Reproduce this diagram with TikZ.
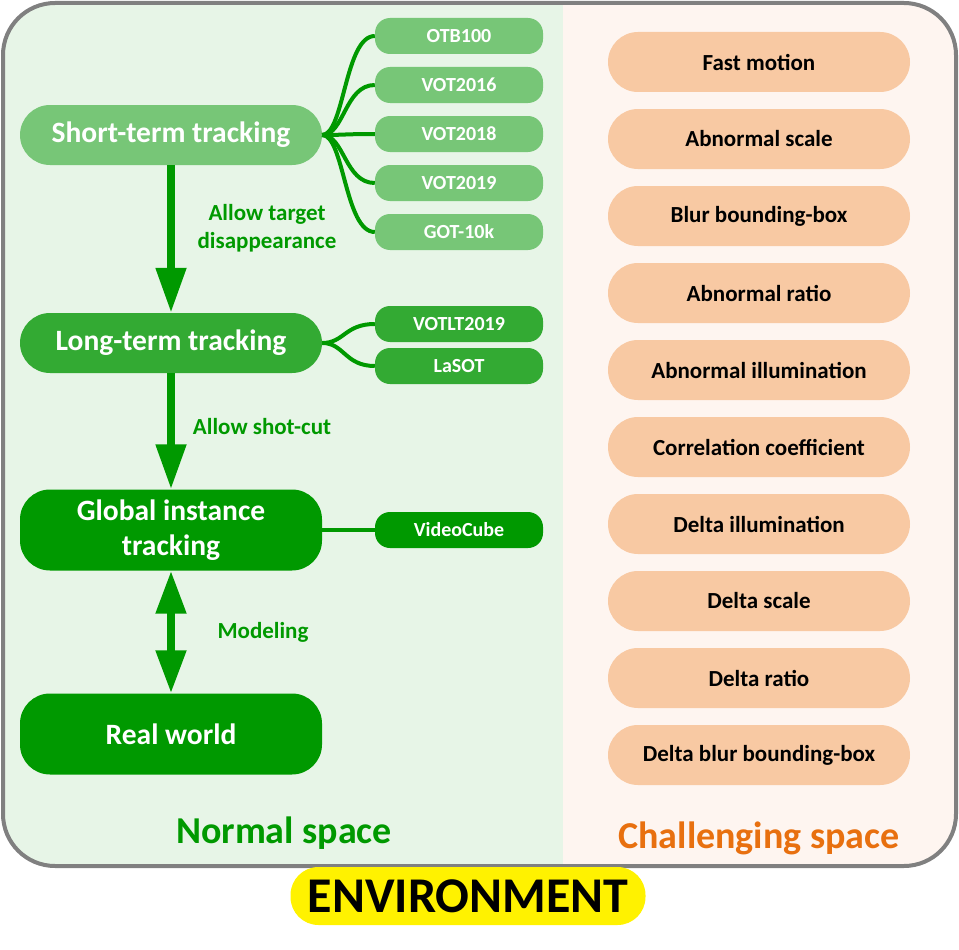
\documentclass[tikz,border=0pt]{standalone}
\usepackage{fontspec}
\setmainfont{Carlito}
\usetikzlibrary{arrows.meta}
\definecolor{gA}{HTML}{77C677}
\definecolor{gB}{HTML}{33AA33}
\definecolor{gC}{HTML}{009900}
\definecolor{bgG}{HTML}{E7F5E7}
\definecolor{bgP}{HTML}{FEF5F0}
\definecolor{peach}{HTML}{F8C9A3}
\definecolor{orng}{HTML}{E8700F}
\definecolor{frame}{HTML}{808080}
\tikzset{
  mainbox/.style={rounded corners=30pt, minimum width=302pt, minimum height=60pt, text=white,
    font=\bfseries\fontsize{29.5}{35}\selectfont, align=center, inner sep=0pt},
  dsbox/.style={rounded corners=15pt, minimum width=168pt, minimum height=36pt, text=white,
    font=\bfseries\fontsize{20}{22}\selectfont, inner sep=0pt},
  chbox/.style={fill=peach, rounded corners=30pt, minimum width=302pt, minimum height=60pt,
    font=\bfseries\fontsize{23}{26}\selectfont, inner sep=0pt},
  conn/.style={draw=gC, line width=4pt},
  bigarrow/.style={draw=gC, fill=gC, line width=8pt, -{Triangle[width=29pt,length=45pt]}},
  dblarrow/.style={draw=gC, fill=gC, line width=8pt, {Triangle[width=29pt,length=43pt]}-{Triangle[width=29pt,length=43pt]}},
  lbl/.style={text=gC, font=\bfseries\fontsize{23}{28}\selectfont, align=center},
}
\begin{document}
\begin{tikzpicture}[x=1pt,y=-1pt]
\useasboundingbox (0,0) rectangle (959,950);
% background
\begin{scope}
  \clip[rounded corners=52pt] (3,3) rectangle (956,866);
  \fill[bgG] (0,0) rectangle (563,870);
  \fill[bgP] (563,0) rectangle (960,870);
\end{scope}
\draw[frame, line width=4pt, rounded corners=52pt] (3,3) rectangle (956,866);

% main nodes
\node[mainbox, fill=gA] (st) at (171,135) {Short-term tracking};
\node[mainbox, fill=gB] (lt) at (171,343) {Long-term tracking};
\node[mainbox, fill=gC, minimum height=81pt] (git) at (171,530) {Global instance\\tracking};
\node[mainbox, fill=gC, minimum height=81pt] (rw) at (171,734) {Real world};

% datasets
\node[dsbox, fill=gA] (otb) at (459,36) {OTB100};
\node[dsbox, fill=gA] (v16) at (459,85) {VOT2016};
\node[dsbox, fill=gA] (v18) at (459,134) {VOT2018};
\node[dsbox, fill=gA] (v19) at (459,183) {VOT2019};
\node[dsbox, fill=gA] (got) at (459,232) {GOT-10k};
\node[dsbox, fill=gB] (vlt) at (459,324) {VOTLT2019};
\node[dsbox, fill=gB] (las) at (459,366) {LaSOT};
\node[dsbox, fill=gC] (vc) at (459,530) {VideoCube};

% connectors
\foreach \t in {otb,v16,v18,v19,got}
  \draw[conn] (st.east) .. controls +(22,0) and +(-30,0) .. (\t.west);
\foreach \t in {vlt,las}
  \draw[conn] (lt.east) .. controls +(22,0) and +(-30,0) .. (\t.west);
\draw[conn] (git.east) -- (vc.west);

% arrows
\draw[bigarrow] (st.south) -- (lt.north);
\draw[bigarrow] (lt.south) -- (git.north);
\draw[dblarrow] (git.south) -- (rw.north);

\node[lbl] (l1) at (267,228) {Allow target\\disappearance};
\node[lbl] (l2) at (262,427) {Allow shot-cut};
\node[lbl] (l3) at (263,632) {Modeling};

% challenging
\node[chbox] (c1) at (759,62) {Fast motion};
\node[chbox] (c2) at (759,139) {Abnormal scale};
\node[chbox] (c3) at (759,216) {Blur bounding-box};
\node[chbox] (c4) at (759,293) {Abnormal ratio};
\node[chbox] (c5) at (759,370) {Abnormal illumination};
\node[chbox] (c6) at (759,447) {Correlation coefficient};
\node[chbox] (c7) at (759,524) {Delta illumination};
\node[chbox] (c8) at (759,601) {Delta scale};
\node[chbox] (c9) at (759,678) {Delta ratio};
\node[chbox] (c10) at (759,755) {Delta blur bounding-box};

% titles
\node[text=gC, font=\bfseries\fontsize{38}{40}\selectfont] (ns) at (284,833) {Normal space};
\node[text=orng, font=\bfseries\fontsize{38}{40}\selectfont] (cs) at (759,838) {Challenging space};

\node[fill=yellow, rounded corners=28pt, minimum width=355pt, minimum height=58pt, inner sep=0pt,
  font=\bfseries\fontsize{50}{52}\selectfont] (env) at (468,896) {ENVIRONMENT};
\end{tikzpicture}
\end{document}
